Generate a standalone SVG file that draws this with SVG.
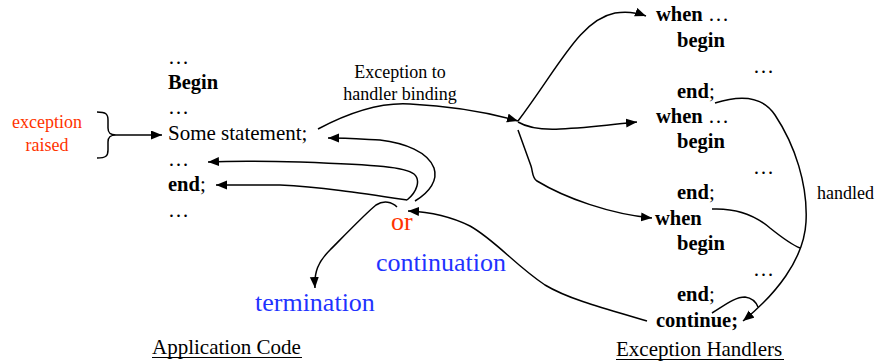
<svg xmlns="http://www.w3.org/2000/svg" width="876" height="364" viewBox="0 0 876 364">
<defs>
<marker id="ah" markerUnits="userSpaceOnUse" markerWidth="12" markerHeight="10" refX="11" refY="4.5" orient="auto">
<path d="M0,0 L11,4.5 L0,9 z" fill="#000"/>
</marker>
<style>
text{font-family:"Liberation Serif","Times New Roman",serif;fill:#000}
.t{font-size:21px}
.b{font-size:20.5px;font-weight:bold}
.s{font-size:18px}
.red{fill:#ff3300}
.blue{fill:#1f33ff}
.big{font-size:26px}
.c{fill:none;stroke:#000;stroke-width:1.5}
.a{marker-end:url(#ah)}
</style>
</defs>
<rect width="876" height="364" fill="#fff"/>

<g id="app-code">
<text class="t" x="168" y="64">…</text>
<text class="b" x="168" y="89">Begin</text>
<text class="t" x="168" y="114">…</text>
<text class="t" x="168" y="140">Some statement;</text>
<text class="t" x="168" y="166">…</text>
<text class="t" x="168" y="191"><tspan font-weight="bold" font-size="20.5">end</tspan>;</text>
<text class="t" x="168" y="217">…</text>
</g>

<g id="exception-raised">
<text class="s red" x="47" y="128" text-anchor="middle">exception</text>
<text class="s red" x="47" y="151" text-anchor="middle">raised</text>
</g>

<g id="binding-label">
<text class="s" x="400" y="78" text-anchor="middle">Exception to</text>
<text class="s" x="400" y="100" text-anchor="middle">handler binding</text>
</g>

<g id="handler1">
<text class="t" x="656" y="21"><tspan font-weight="bold" font-size="20.5">when</tspan> …</text>
<text class="b" x="677" y="47">begin</text>
<text class="t" x="753" y="73">…</text>
<text class="t" x="677" y="98"><tspan font-weight="bold" font-size="20.5">end</tspan>;</text>
</g>
<g id="handler2">
<text class="t" x="656" y="123"><tspan font-weight="bold" font-size="20.5">when</tspan> …</text>
<text class="b" x="677" y="148">begin</text>
<text class="t" x="753" y="174">…</text>
<text class="t" x="677" y="199"><tspan font-weight="bold" font-size="20.5">end</tspan>;</text>
</g>
<g id="handler3">
<text class="b" x="655" y="225">when</text>
<text class="b" x="677" y="250">begin</text>
<text class="t" x="753" y="276">…</text>
<text class="t" x="677" y="301"><tspan font-weight="bold" font-size="20.5">end</tspan>;</text>
<text class="b" x="656" y="327">continue;</text>
</g>

<g id="handled-label">
<text class="s" x="817" y="199">handled</text>
</g>

<g id="outcomes">
<text class="big red" x="391" y="230">or</text>
<text class="big blue" x="376" y="271">continuation</text>
<text class="big blue" x="255" y="311">termination</text>
</g>

<g id="titles">
<text class="t" x="152" y="354">Application Code</text>
<line x1="152" y1="357.5" x2="302" y2="357.5" stroke="#000" stroke-width="1"/>
<text class="t" x="616" y="356">Exception Handlers</text>
<line x1="616" y1="359.5" x2="784" y2="359.5" stroke="#000" stroke-width="1"/>
</g>

<g id="connectors">
<path class="c" d="M97,112 C106,112 108,114 108,120 L108,128 C108,133 110,135 116,135 C110,135 108,137 108,142 L108,150 C108,156 106,158 97,158"/>
<path class="c a" d="M116,135 L162,135"/>
<path class="c a" d="M318,129 C350,112 380,102 410,104 C450,106 490,113 518,121"/>
<path class="c a" d="M518,121 C560,65 580,20 615,13 C628,11 638,13 646,16"/>
<path class="c a" d="M518,122 C528,128 540,130 560,129 C590,128 615,124 637,122"/>
<path class="c a" d="M518,130 L531,166 C533,172 532,178 537,181 C565,198 610,214 652,218"/>
<path class="c a" d="M715,103 C740,95 762,95 775,115 C795,145 808,185 806,222 C804,260 775,295 743,321"/>
<path class="c" d="M712,209 C735,208 755,215 770,228 C785,240 795,246 800,248"/>
<path class="c" d="M712,313 C725,305 735,297 745,297 C752,298 756,302 758,307"/>
<path class="c a" d="M647,321 C610,310 570,300 545,285 C515,265 495,240 470,226 C450,216 430,212 408,211"/>
<path class="c a" d="M415,201 C430,192 438,180 434,168 C428,152 405,143 380,140 C360,139 345,138 328,138"/>
<path class="c a" d="M407,200 C417,192 421,180 414,174 C405,167 380,165 300,162 C260,161 230,161 208,162"/>
<path class="c a" d="M407,200 C360,193 320,187 280,185 L216,185"/>
<path class="c a" d="M397,207 C392,202 384,200 376,205 C366,213 340,240 330,250 C318,262 314,272 315,288"/>
</g>
</svg>
